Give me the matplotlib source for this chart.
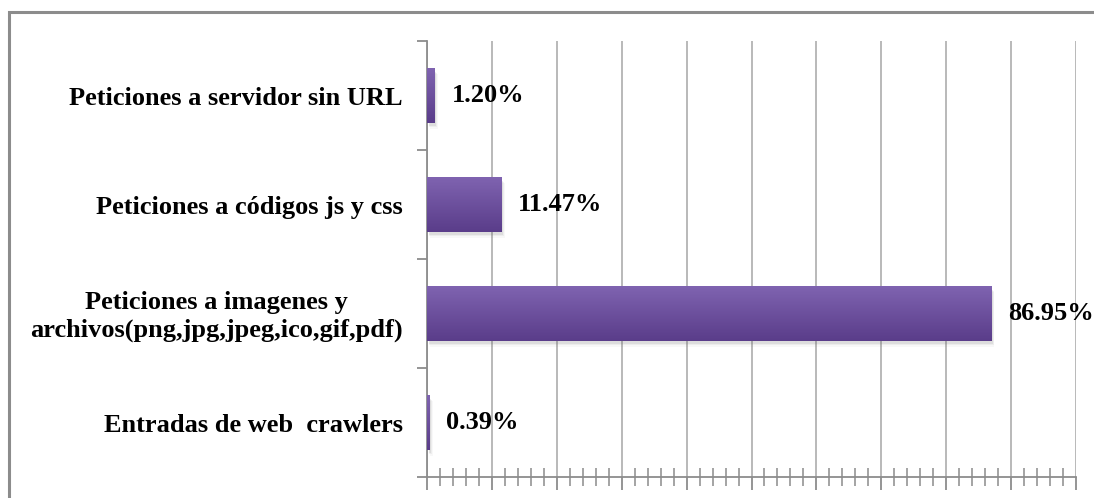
import numpy as np
from matplotlib import pyplot as plt
from matplotlib.colors import LinearSegmentedColormap
from matplotlib.patches import Rectangle
from matplotlib.ticker import MultipleLocator, FixedLocator, NullFormatter


# Data #########################################################################

CATEGORIES = [
    "Entradas de web  crawlers",
    "Peticiones a imagenes y\narchivos(png,jpg,jpeg,ico,gif,pdf)",
    "Peticiones a códigos js y css",
    "Peticiones a servidor sin URL",
]
VALUES = [0.39, 86.95, 11.47, 1.20]
VALUE_LABELS = ["0.39%", "86.95%", "11.47%", "1.20%"]

# Style ########################################################################

FIGURE_SIZE = (10.94, 4.98)
DPI = 100
FONT = "Liberation Serif"
LABEL_SIZE = 19
VALUE_SIZE = 19
BAR_HEIGHT = 0.5
BAR_TOP = "#7f63b0"
BAR_BOTTOM = "#5a3d8a"
GRID_COLOR = "#a6a6a6"
AXIS_COLOR = "#8c8c8c"
FRAME_COLOR = "#8c8c8c"


def main():
    fig = plt.figure(figsize=FIGURE_SIZE, dpi=DPI)
    ax = fig.add_axes([427 / 1094, 21 / 498, 649 / 1094, 436 / 498])

    y = np.arange(len(CATEGORIES))
    ax.set_xlim(0, 100)
    ax.set_ylim(-0.5, len(CATEGORIES) - 0.5)

    # gridlines
    ax.xaxis.set_major_locator(MultipleLocator(10))
    ax.xaxis.set_minor_locator(MultipleLocator(2))
    ax.grid(axis="x", which="major", color=GRID_COLOR, lw=1.1, zorder=0)
    ax.set_axisbelow(True)

    # bars with shadow and vertical gradient
    cmap = LinearSegmentedColormap.from_list("bar", [BAR_BOTTOM, BAR_TOP])
    grad = np.linspace(0, 1, 64).reshape(-1, 1)
    bars = ax.barh(y, VALUES, height=BAR_HEIGHT, color=BAR_BOTTOM, zorder=2)
    for b in bars:
        x0, y0, w, h = b.get_x(), b.get_y(), b.get_width(), b.get_height()
        for i, a in enumerate([0.10, 0.07, 0.04]):
            ax.add_patch(Rectangle((x0 + 0.25 + i * 0.12, y0 - 0.03 - i * 0.012), w, h,
                                   color="#606060", alpha=a, lw=0, zorder=1))
        im = ax.imshow(grad, cmap=cmap, aspect="auto", origin="lower",
                       extent=(x0, x0 + w, y0, y0 + h), zorder=3)
        im.set_clip_path(b)

    # value labels
    for yi, v, lab in zip(y, VALUES, VALUE_LABELS):
        ax.text(v + 2.6, yi, lab, ha="left", va="center", fontsize=VALUE_SIZE,
                fontweight="bold", family=FONT, zorder=4)

    # category labels
    for yi, lab in zip(y, CATEGORIES):
        ax.text(-3.7, yi - 0.03, lab, ha="right", va="center", multialignment="center",
                fontsize=LABEL_SIZE, fontweight="bold", family=FONT,
                linespacing=1.25, clip_on=False)

    # axes styling
    for side in ["top", "right"]:
        ax.spines[side].set_visible(False)
    for side in ["left", "bottom"]:
        ax.spines[side].set_color(AXIS_COLOR)
        ax.spines[side].set_linewidth(1.3)
    ax.xaxis.set_major_formatter(NullFormatter())
    ax.tick_params(axis="x", which="major", direction="out", length=9, width=1.3, color=AXIS_COLOR)
    ax.tick_params(axis="x", which="minor", direction="inout", length=13, width=1.1, color=AXIS_COLOR)
    ax.yaxis.set_major_locator(FixedLocator(np.arange(len(CATEGORIES) + 1) - 0.5))
    ax.yaxis.set_major_formatter(NullFormatter())
    ax.tick_params(axis="y", direction="out", length=7, width=1.3, color=AXIS_COLOR)

    # outer chart frame (cut off on the right and bottom)
    fig.patches.append(Rectangle((8.5 / 1094, -0.1), 1.2, (498 - 12.5) / 498 + 0.1,
                                 transform=fig.transFigure, fill=False,
                                 ec=FRAME_COLOR, lw=2.2, zorder=0))

    fig.savefig("out.png", dpi=DPI)


if __name__ == "__main__":
    main()
